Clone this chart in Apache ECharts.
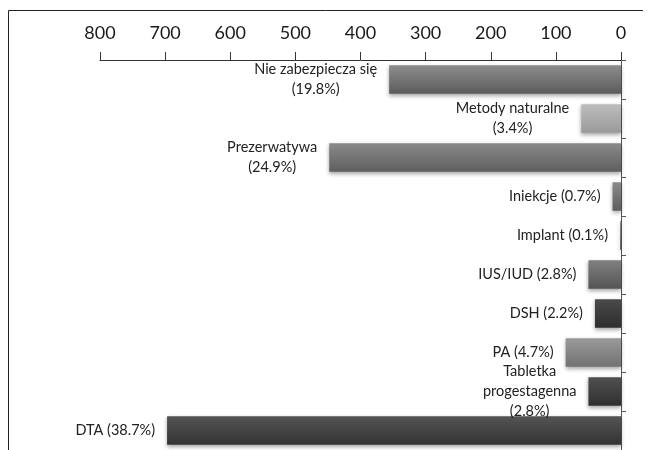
<!DOCTYPE html>
<html>
<head>
<meta charset="utf-8">
<script src="https://cdn.jsdelivr.net/npm/echarts@6/dist/echarts.min.js"></script>
<style>
  html, body { margin: 0; padding: 0; background: #fff; }
  #chart { width: 652px; height: 450px; }
</style>
</head>
<body>
<div id="chart"></div>
<script>
// kategorie (od góry do dołu)
var categories = ['Nie zabezpiecza się', 'Metody naturalne', 'Prezerwatywa', 'Iniekcje', 'Implant',
                  'IUS/IUD', 'DSH', 'PA', 'Tabletka progestagenna', 'DTA'];
var labelLines = [
  ['Nie zabezpiecza się', '(19.8%)'],
  ['Metody naturalne', '(3.4%)'],
  ['Prezerwatywa', '(24.9%)'],
  ['Iniekcje (0.7%)'],
  ['Implant (0.1%)'],
  ['IUS/IUD (2.8%)'],
  ['DSH (2.2%)'],
  ['PA (4.7%)'],
  ['Tabletka', 'progestagenna', '(2.8%)'],
  ['DTA (38.7%)']
];
var values = [356, 61, 448, 13, 1.5, 50, 40, 85, 50, 697];
var tickLabels = [0, 100, 200, 300, 400, 500, 600, 700, 800];
// odcienie szarosci [gora, dol]
var shades = [
  ['#8c8c8c', '#5c5c5c'],
  ['#bdbdbd', '#9a9a9a'],
  ['#8a8a8a', '#5e5e5e'],
  ['#8a8a8a', '#5e5e5e'],
  ['#8a8a8a', '#5e5e5e'],
  ['#808080', '#555555'],
  ['#4a4a4a', '#2e2e2e'],
  ['#9a9a9a', '#727272'],
  ['#505050', '#303030'],
  ['#545454', '#333333']
];

var myChart = echarts.init(document.getElementById('chart'));

var barData = values.map(function (v, i) {
  return {
    value: v,
    itemStyle: {
      color: new echarts.graphic.LinearGradient(0, 0, 0, 1, [
        { offset: 0, color: shades[i][0] },
        { offset: 1, color: shades[i][1] }
      ])
    }
  };
});

var option = {
  animation: false,
  backgroundColor: '#fff',
  grid: { left: 100, right: 31, top: 60, height: 393 },
  graphic: [{
    type: 'polyline',
    shape: { points: [[8.5, 450], [8.5, 10.5], [643, 10.5]] },
    style: { stroke: '#222', lineWidth: 1, fill: null },
    silent: true
  }],
  xAxis: {
    type: 'value',
    position: 'top',
    inverse: true,
    min: tickLabels[0],
    max: tickLabels[tickLabels.length - 1],
    interval: 100,
    axisLine: { show: true, lineStyle: { color: '#333', width: 1 } },
    axisTick: { show: true, length: 8, lineStyle: { color: '#333' } },
    splitLine: { show: false },
    axisLabel: { fontSize: 18, color: '#1a1a1a', margin: 18, fontFamily: 'Lato' }
  },
  yAxis: {
    type: 'category',
    position: 'right',
    inverse: true,
    data: categories,
    axisLine: { show: true, lineStyle: { color: '#555', width: 1 } },
    axisTick: { show: true, length: 5, lineStyle: { color: '#555' } },
    axisLabel: { show: false }
  },
  series: [{
    type: 'bar',
    data: barData,
    barCategoryGap: '27%',
    itemStyle: {
      shadowBlur: 4,
      shadowOffsetY: 2,
      shadowColor: 'rgba(0,0,0,0.35)'
    },
    label: {
      show: true,
      position: 'left',
      distance: 12,
      color: '#222',
      fontSize: 14.5,
      fontFamily: 'Lato',
      lineHeight: 20,
      formatter: function (p) {
        return labelLines[p.dataIndex].map(function (s) { return '{c|' + s + '}'; }).join('\n');
      },
      rich: {
        c: { align: 'center', fontSize: 14.5, fontFamily: 'Lato', color: '#222', lineHeight: 20 }
      }
    }
  }]
};
myChart.setOption(option, true);
</script>
</body>
</html>
